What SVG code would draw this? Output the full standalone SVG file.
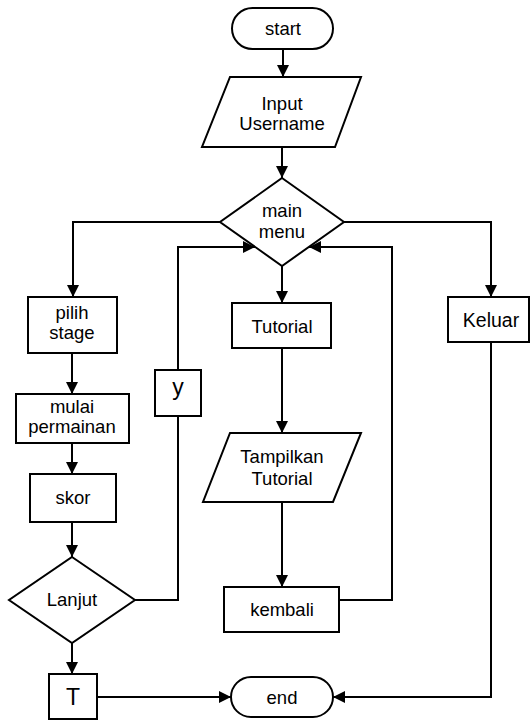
<svg xmlns="http://www.w3.org/2000/svg" width="531" height="721" viewBox="0 0 531 721">
<defs>
<style>
.s{fill:#fff;stroke:#000;stroke-width:2}
.t{font-family:"Liberation Sans",Arial,sans-serif;font-size:18.5px;fill:#000;text-anchor:middle}
.b{font-size:23px}
.c{fill:none;stroke:#000;stroke-width:2}
</style>
<marker id="a" markerUnits="userSpaceOnUse" markerWidth="14" markerHeight="14" viewBox="0 0 14 14" refX="13" refY="7" orient="auto">
<path d="M1,1 L13,7 L1,13 Z" fill="#000"/>
</marker>
</defs>
<rect width="531" height="721" fill="#fff"/>
<g id="connectors">
<path class="c" d="M283,49 V77" marker-end="url(#a)"/>
<path class="c" d="M282,147 V178" marker-end="url(#a)"/>
<path class="c" d="M220,222 H73 V297" marker-end="url(#a)"/>
<path class="c" d="M282,266 V303" marker-end="url(#a)"/>
<path class="c" d="M344,222 H491 V297" marker-end="url(#a)"/>
<path class="c" d="M72,353 V394" marker-end="url(#a)"/>
<path class="c" d="M72,443 V474" marker-end="url(#a)"/>
<path class="c" d="M72,522 V557" marker-end="url(#a)"/>
<path class="c" d="M135,600 H178 V416"/>
<path class="c" d="M178,370 V247 H255" marker-end="url(#a)"/>
<path class="c" d="M72,643 V674" marker-end="url(#a)"/>
<path class="c" d="M97,697 H231" marker-end="url(#a)"/>
<path class="c" d="M282,348 V433" marker-end="url(#a)"/>
<path class="c" d="M282,502 V587" marker-end="url(#a)"/>
<path class="c" d="M339,600 H392 V247 H309" marker-end="url(#a)"/>
<path class="c" d="M491,342 V697 H333" marker-end="url(#a)"/>
</g>
<g id="start"><rect class="s" x="232" y="8" width="101" height="41" rx="20.5"/><text class="t" x="283" y="35">start</text></g>
<g id="input"><polygon class="s" points="230,77 361,77 335,147 202,147"/><text class="t" x="282" y="110">Input</text><text class="t" x="282" y="130">Username</text></g>
<g id="mainmenu"><polygon class="s" points="282,178 344,222 282,266 220,222"/><text class="t" x="282" y="217">main</text><text class="t" x="282" y="238">menu</text></g>
<g id="pilih"><rect class="s" x="28" y="297" width="89" height="56"/><text class="t" x="72" y="319">pilih</text><text class="t" x="72" y="339">stage</text></g>
<g id="mulai"><rect class="s" x="16" y="394" width="113" height="49"/><text class="t" x="72" y="413">mulai</text><text class="t" x="72" y="433">permainan</text></g>
<g id="skor"><rect class="s" x="30" y="474" width="86" height="48"/><text class="t" x="73" y="504">skor</text></g>
<g id="lanjut"><polygon class="s" points="72,557 135,600 72,643 9,600"/><text class="t" x="72" y="606">Lanjut</text></g>
<g id="y"><rect class="s" x="155" y="370" width="46" height="46"/><text class="t b" x="178" y="395">y</text></g>
<g id="T"><rect class="s" x="49" y="674" width="48" height="45"/><text class="t b" x="73" y="705">T</text></g>
<g id="tutorial"><rect class="s" x="232" y="303" width="99" height="45"/><text class="t" x="282" y="333">Tutorial</text></g>
<g id="tampilkan"><polygon class="s" points="230,433 361,433 333,502 203,502"/><text class="t" x="282" y="463">Tampilkan</text><text class="t" x="282" y="485">Tutorial</text></g>
<g id="kembali"><rect class="s" x="224" y="587" width="115" height="45"/><text class="t" x="282" y="616">kembali</text></g>
<g id="keluar"><rect class="s" x="448" y="297" width="81" height="45"/><text class="t" x="491" y="327" style="font-size:19.5px">Keluar</text></g>
<g id="end"><rect class="s" x="231" y="677" width="102" height="40" rx="20"/><text class="t" x="282" y="704">end</text></g>
</svg>
